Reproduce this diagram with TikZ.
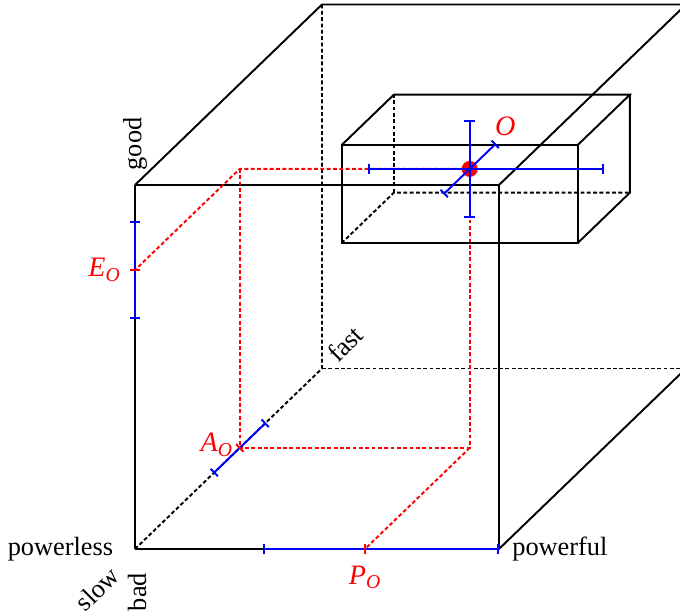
\documentclass[tikz,border=0pt]{standalone}
\usepackage{amsmath}
\usepackage{fontspec}
\setmainfont{Liberation Serif}
\usepackage{tikz}
\usetikzlibrary{arrows.meta,positioning}

\begin{document}
\begin{tikzpicture}[>=Latex,x={(1cm,0cm)},y={(0cm,1cm)},z={(3.74cm,3.61cm)},line width=1.1pt,font=\fontsize{15}{18}\selectfont,
  hidden/.style={dash pattern=on 2.2pt off 1.4pt},
  proj/.style={red,dash pattern=on 2.2pt off 1.4pt},
  errbar/.style={blue,{Bar[width=6pt]}-{Bar[width=6pt]}},
  midtick/.style={red,line width=1.1pt},
  axlabel/.style={inner sep=1pt},
  ptlabel/.style={red,font=\fontsize{16}{19}\selectfont}]
\useasboundingbox (-2.7,-1.32) rectangle (10.9,10.98);
\clip (-2.7,-1.32) rectangle (10.9,10.98);
% big cube
\coordinate (fbl) at (0,0,0);
\coordinate (fbr) at (7.28,0,0);
\coordinate (ftl) at (0,7.28,0);
\coordinate (ftr) at (7.28,7.28,0);
\coordinate (bbl) at (0,0,1);
\coordinate (bbr) at (7.28,0,1);
\coordinate (btl) at (0,7.28,1);
\coordinate (btr) at (7.28,7.28,1);
\draw (fbl) -- (fbr);
\draw (fbr) -- (ftr);
\draw (ftr) -- (ftl);
\draw (ftl) -- (fbl);
\draw (ftl) -- (btl) -- (btr) -- (ftr);
\draw (fbr) -- (bbr) -- (btr);
\draw[hidden] (fbl) -- (bbl) -- (btl);
\draw[hidden] (bbl) -- (bbr);
% error box
\draw (2.56,4.6,0.42) -- (7.28,4.6,0.42) -- (7.28,6.56,0.42) -- (2.56,6.56,0.42) -- cycle;
\draw (2.56,6.56,0.42) -- (2.56,6.56,0.70) -- (7.28,6.56,0.70) -- (7.28,6.56,0.42);
\draw (7.28,6.56,0.70) -- (7.28,4.6,0.70) -- (7.28,4.6,0.42);
\draw[hidden] (2.56,4.6,0.42) -- (2.56,4.6,0.70) -- (7.28,4.6,0.70);
\draw[hidden] (2.56,4.6,0.70) -- (2.56,6.56,0.70);
% point and its projections
\coordinate (O) at (4.6,5.58,0.56);
\coordinate (oxz) at (4.6,0,0.56);
\coordinate (oyz) at (0,5.58,0.56);
\coordinate (ao) at (0,0,0.56);
\coordinate (po) at (4.6,0,0);
\coordinate (eo) at (0,5.58,0);
\draw[proj] (O) -- (oxz) -- (ao);
\draw[proj] (oxz) -- (po);
\draw[proj] (O) -- (oyz) -- (eo);
\draw[proj] (oyz) -- (ao);
\fill[red] (O) circle (0.16cm);
\draw[errbar] (2.56,5.58,0.56) -- (7.28,5.58,0.56);
\draw[errbar] (4.6,4.6,0.56) -- (4.6,6.56,0.56);
\draw[errbar] (4.6,5.58,0.42) -- (4.6,5.58,0.70);
\draw[errbar] (0,4.6,0) -- (0,6.56,0);
\draw[errbar] (2.56,0,0) -- (7.28,0,0);
\draw[errbar] (0,0,0.42) -- (0,0,0.70);
\draw[midtick] ([xshift=-3pt]eo) -- ([xshift=3pt]eo);
\draw[midtick] ([yshift=-3pt]po) -- ([yshift=3pt]po);
\draw[midtick] ([xshift=-2.1pt,yshift=2.2pt]ao) -- ([xshift=2.1pt,yshift=-2.2pt]ao);
% labels
\node[left=0.3cm of fbl] (lpowerless) {powerless};
\node[right=0.13cm of fbr] (lpowerful) {powerful};
\node[axlabel,rotate=45] (lslow) at (-0.76,-0.8) {slow};
\node[axlabel,rotate=90] (lbad) at (0.04,-0.86) {bad};
\node[axlabel,rotate=90] (lgood) at (0,8.1) {good};
\node[axlabel,rotate=45] (lfast) at (4.2,4.1) {fast};
\node[ptlabel] (lo) at ([xshift=0.71cm,yshift=0.86cm]O) {\textit{O}};
\node[ptlabel,left=0.15cm of eo] (leo) {\textit{E}$_{\textit{O}}$};
\node[ptlabel,left=0.0cm of ao,yshift=0.06cm] (lao) {\textit{A}$_{\textit{O}}$};
\node[ptlabel,below=0.2cm of po] (lpo) {\textit{P}$_{\textit{O}}$};
\end{tikzpicture}
\end{document}
